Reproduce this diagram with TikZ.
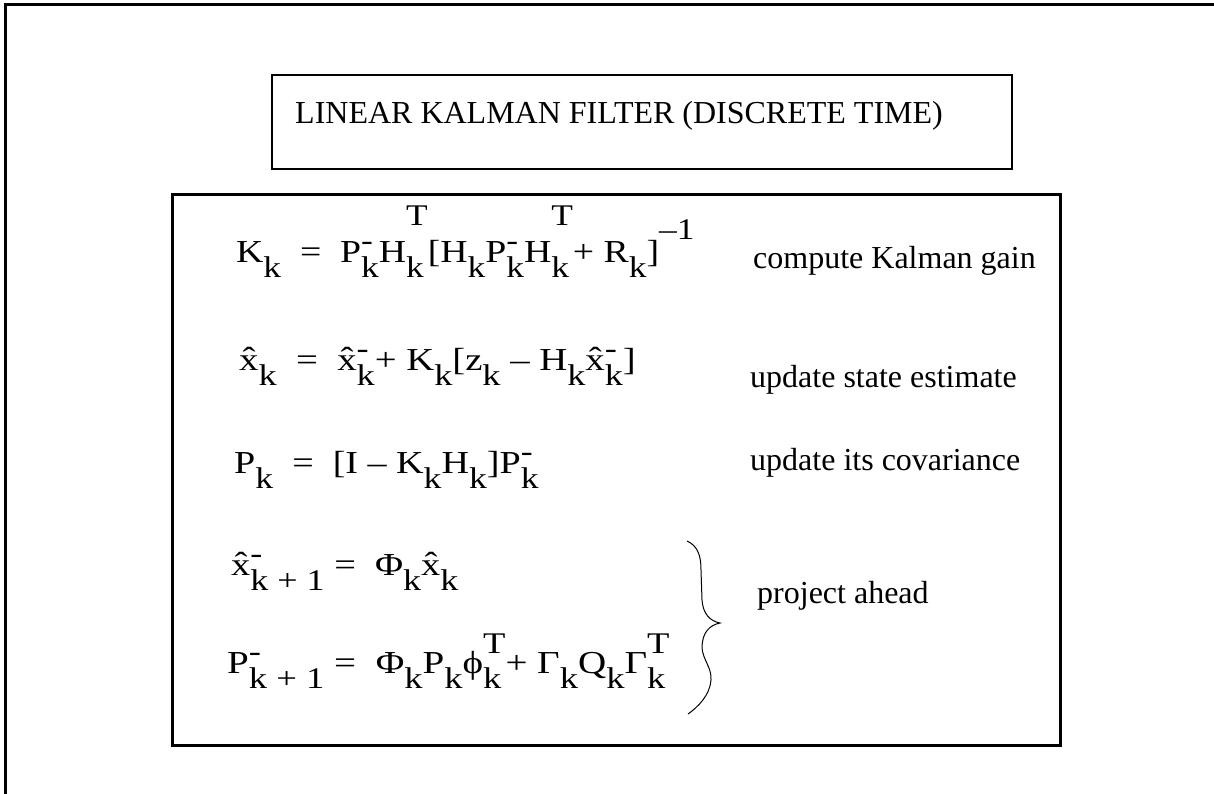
\documentclass[tikz,border=0pt]{standalone}
\usepackage{fontspec}
\usepackage{graphicx}
\setmainfont{Liberation Serif}
\newcommand\eqfont{\fontsize{32}{38}\selectfont}
\newcommand\lblfont{\fontsize{32}{38}\selectfont}
\newcommand\kSm{\fontsize{30}{33}\selectfont}
\newcommand\kLo[1]{\raisebox{-15pt}{\kSm #1}}
\newcommand\kHi[2][20pt]{\raisebox{#1}{\kSm #2}}
\newcommand\kMn{\raisebox{12pt}{\kSm -}}
\newcommand\kLH[2]{\setbox0=\hbox{\kLo{#1}}\setbox2=\hbox{#2}\ifdim\wd0>\wd2 \rlap{\box2}\box0\else\rlap{\box0}\box2\fi}
\newcommand\xh{\^{x}}
\newcommand\eqs[2][1.2]{\scalebox{#1}[1]{#2}}
\tikzset{
  frame/.style={line width=3pt, line cap=rect},
  titlebox/.style={draw, line width=2pt, minimum width=740pt, minimum height=94pt, inner sep=0pt},
  mainbox/.style={draw, line width=3pt, minimum width=887.5pt, minimum height=550pt, inner sep=0pt},
  txt/.style={anchor=base west, inner sep=0pt, font=\lblfont},
  eq/.style={anchor=base west, inner sep=0pt, font=\eqfont},
  brace/.style={line width=1pt}
}
\begin{document}
\begin{tikzpicture}[x=1pt,y=-1pt]
\useasboundingbox (0,0) rectangle (1214,794);
\coordinate (fbl) at (5.5,794);
\coordinate (ftl) at (5.5,4.5);
\coordinate (ftr) at (1214,4.5);
\draw[frame] (fbl) -- (ftl) -- (ftr);
\node[titlebox] (title) at (642,122) {};
\node[mainbox] (main) at (616.25,470) {};
\node[txt] (ttl) at (295,124) {LINEAR KALMAN FILTER (DISCRETE TIME)};
% equations
\node[eq] (e1) at (236,262) {\eqs[1.18]{K\kLo{k} \ = \ P\kLH{k}{\kMn}H\kLH{k}{\kHi[37pt]{T}}[H\kLo{k}P\kLH{k}{\kMn}H\kLH{k}{\kHi[37pt]{T}} + R\kLo{k}]\kHi[23pt]{–1}}};
\node[eq] (e2) at (239,370) {\eqs[1.21]{\xh\kLo{k} \ = \ \xh\kLH{k}{\kMn} + K\kLo{k}[z\kLo{k} – H\kLo{k}\xh\kLH{k}{\kMn}]}};
\node[eq] (e3) at (234,473) {\eqs[1.19]{P\kLo{k} \ = \ [I – K\kLo{k}H\kLo{k}]P\kLH{k}{\kMn}}};
\node[eq] (e4) at (231,575) {\eqs[1.2]{\xh\kLH{k + 1}{\kMn} \ = \ Φ\kLo{k}\xh\kLo{k}}};
\node[eq] (e5) at (227,673) {\eqs[1.22]{P\kLH{k + 1}{\kMn} \ = \ Φ\kLo{k}P\kLo{k}ϕ\kLH{k}{\kHi{T}} + Γ\kLo{k}Q\kLo{k}Γ\kLH{k}{\kHi{T}}}};
% labels
\node[txt] (l1) at (753,268) {compute Kalman gain};
\node[txt] (l2) at (750,387) {update state estimate};
\node[txt] (l3) at (750,470) {update its covariance};
\node[txt] (l4) at (757,603) {project ahead};
% brace
\coordinate (bt) at (687,541);
\coordinate (bm) at (720,623);
\coordinate (bb) at (688,714);
\draw[brace] (bt) .. controls (698,546) and (701,556) .. (701,570) -- (702,600) .. controls (703,614) and (710,621) .. (bm) .. controls (710,625) and (702,632) .. (702,648) .. controls (703,660) and (712,668) .. (711,680) .. controls (710,695) and (698,707) .. (bb);
\end{tikzpicture}
\end{document}
